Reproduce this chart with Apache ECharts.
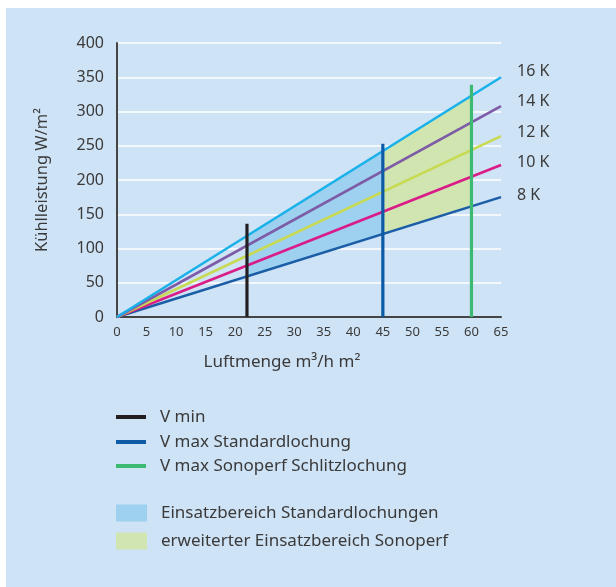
<!DOCTYPE html>
<html><head><meta charset="utf-8">
<script src="https://cdn.jsdelivr.net/npm/echarts@6/dist/echarts.min.js"></script>
<style>
html,body{margin:0;padding:0;background:#fff;width:616px;height:587px;overflow:hidden}
#bg{position:absolute;left:6px;top:8px;width:610px;height:579px;background:#cfe3f6}
#c{position:absolute;left:0;top:0;width:616px;height:587px}
</style></head>
<body><div id="bg"></div><div id="c"></div>
<script>
// Tick labels
const xTicks = [0,5,10,15,20,25,30,35,40,45,50,55,60,65];
const yTicks = [0,50,100,150,200,250,300,350,400];
// Cooling lines (temperature difference): start / end points
const k16 = [[0,0],[65,350]];
const k14 = [[0,0],[65,308]];
const k12 = [[0,0],[65,264]];
const k10 = [[0,0],[65,222]];
const k8  = [[0,0],[65,175]];
// Vertical limits
const vMin = [[22,0],[22,136]];
const vMaxStd = [[45,0],[45,253]];
const vMaxSono = [[60,0],[60,339]];
// Regions (polygon corners)
const regionStd = [[22,59],[45,121],[45,242],[22,118]];
const regionSono = [[45,121],[60,162],[60,323],[45,242]];

const FONT = 'Noto Sans';
const TXT = '#3a3a3a';
const chart = echarts.init(document.getElementById('c'), null, {renderer:'canvas'});

function kLine(name, data, color, dy){
  return {type:'line', name, data, showSymbol:false, symbol:'none', z:5,
    lineStyle:{color, width:2.6}, itemStyle:{color},
    endLabel:{show:true, formatter:name, color:TXT, fontFamily:FONT, fontSize:16, distance:16, offset:[0,dy]},
    silent:true, animation:false};
}
function vLine(name, data, color){
  return {type:'line', name, data, showSymbol:false, symbol:'none', z:8,
    lineStyle:{color, width:3.2}, itemStyle:{color}, animation:false};
}
function region(name, data, color){
  return {type:'custom', name, data, z:3, itemStyle:{color}, animation:false,
    renderItem:function(params, api){
      if(params.dataIndex!==0) return null;
      const pts = data.map(p=>api.coord(p));
      return {type:'polygon', shape:{points:pts}, style:{fill:color}};
    },
    encode:{x:0,y:1}};
}
function legendItem(name, top, w, h){
  return {data:[name], left:116, top, orient:'vertical', icon:'rect', itemWidth:w, itemHeight:h,
    textStyle:{color:TXT, fontFamily:FONT, fontSize:17, lineHeight:20, padding:[0,0,0,9]},
    selectedMode:false, padding:0};
}

chart.setOption({
  backgroundColor:'transparent',
  animation:false,
  textStyle:{fontFamily:FONT},
  grid:{left:117, top:43, width:384, height:274, containLabel:false},
  xAxis:{type:'value', min:0, max:65, interval:5,
    axisLine:{show:true, lineStyle:{color:'#454545', width:2}},
    axisTick:{show:false}, splitLine:{show:false},
    axisLabel:{color:TXT, fontSize:13, margin:9, fontFamily:FONT,
      formatter:v=>xTicks.includes(v)?String(v):''}},
  yAxis:{type:'value', min:0, max:400, interval:50,
    name:'Kühlleistung W/m²', nameLocation:'middle', nameGap:66,
    nameTextStyle:{color:TXT, fontSize:16.5, fontFamily:FONT},
    axisLine:{show:true, lineStyle:{color:'#454545', width:2}},
    axisTick:{show:false},
    splitLine:{show:true, lineStyle:{color:'#ffffff', width:1.5}},
    axisLabel:{color:TXT, fontSize:16, margin:13, fontFamily:FONT,
      formatter:v=>yTicks.includes(v)?String(v):''}},
  legend:[
    legendItem('V min', 407, 30, 4),
    legendItem('V max Standardlochung', 432, 30, 4),
    legendItem('V max Sonoperf Schlitzlochung', 456, 30, 4),
    legendItem('Einsatzbereich Standardlochungen', 503, 31, 17),
    legendItem('erweiterter Einsatzbereich Sonoperf', 531, 31, 17)
  ],
  graphic:[{type:'text', style:{text:'Luftmenge m³/h m²', fill:TXT, font:'17px "Noto Sans"', x:282, y:362, align:'center', verticalAlign:'middle'}}],
  series:[
    region('Einsatzbereich Standardlochungen', regionStd, '#9dd1ef'),
    region('erweiterter Einsatzbereich Sonoperf', regionSono, '#d0e5b0'),
    kLine('8 K', k8, '#1b5da6', -2),
    kLine('10 K', k10, '#d91c87', -2),
    kLine('12 K', k12, '#c8da52', -4),
    kLine('14 K', k14, '#7d5ba6', -4.5),
    kLine('16 K', k16, '#19b1e9', -6),
    vLine('V min', vMin, '#231f20'),
    vLine('V max Standardlochung', vMaxStd, '#0d5aa7'),
    vLine('V max Sonoperf Schlitzlochung', vMaxSono, '#3dba72')
  ]
});
</script></body></html>
